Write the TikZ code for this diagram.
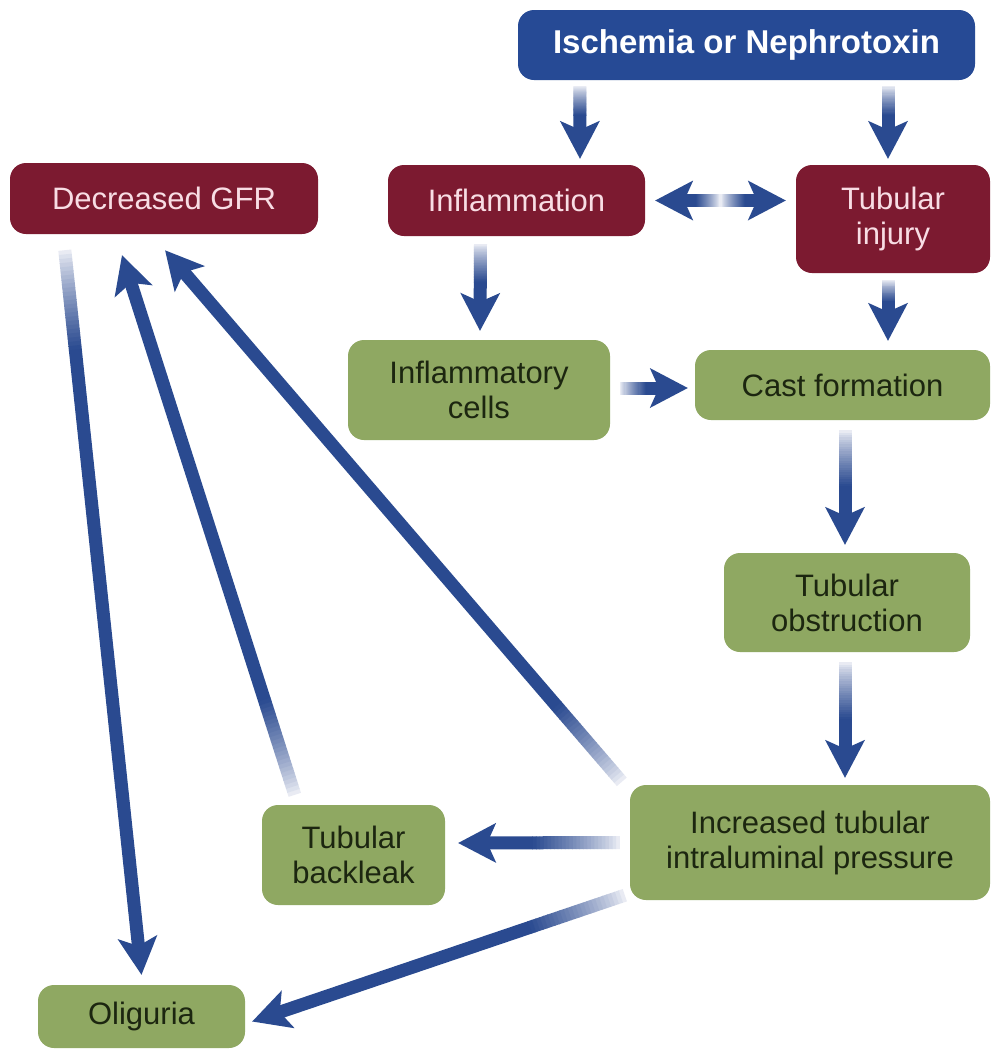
\documentclass[tikz,border=0pt]{standalone}
\usepackage{fontspec}
\setmainfont{Liberation Sans}
\usetikzlibrary{calc}
\definecolor{ablue}{HTML}{2A4A90}
\definecolor{nblue}{HTML}{264A95}
\definecolor{nred}{HTML}{7C1A30}
\definecolor{ngreen}{HTML}{8FA862}
\definecolor{gtext}{HTML}{1C2610}
\definecolor{rtext}{HTML}{F8DDE4}
\definecolor{fadec}{HTML}{F2F3F8}
\newcommand\garr[2]{%
  \path (#1) coordinate (gs) (#2) coordinate (ge);
  \pgfpointdiff{\pgfpointanchor{gs}{center}}{\pgfpointanchor{ge}{center}}%
  \pgfgetlastxy{\gdx}{\gdy}%
  \pgfmathsetmacro\gang{atan2(\gdy,\gdx)}%
  \pgfmathsetmacro\glen{veclen(\gdx,\gdy)}%
  \pgfmathsetmacro\gsh{\glen-28}%
  \pgfmathsetmacro\gfd{min(0.65*\gsh,100)}%
  \pgfmathsetmacro\gseg{\gfd/24}%
  \begin{scope}[shift={(gs)}, rotate=\gang]
    \foreach \gi in {0,...,23}{%
      \pgfmathsetmacro\gpc{100*((\gi+0.5)/24)^0.8}%
      \fill[ablue!\gpc!fadec] (\gi*\gseg pt,-6.5pt) rectangle (\gi*\gseg pt+\gseg pt+0.6pt,6.5pt);
    }
    \fill[ablue] (\gfd pt,-6.5pt) rectangle (\gsh pt,6.5pt);
    \fill[ablue] (\glen pt,0pt) -- (\glen pt-38pt,20pt) -- (\glen pt-29pt,0pt) -- (\glen pt-38pt,-20pt) -- cycle;
  \end{scope}}
\begin{document}
\begin{tikzpicture}[x=1pt,y=-1pt,
  box/.style={rounded corners=16pt, inner sep=0pt, align=center,
    font=\fontsize{31}{35}\selectfont},
  bluebox/.style={box, fill=nblue, text=white, font=\fontsize{33}{37}\selectfont\bfseries},
  redbox/.style={box, fill=nred, text=rtext},
  greenbox/.style={box, fill=ngreen, text=gtext}]
\useasboundingbox[fill=white] (0,0) rectangle (993,1053);
\node[bluebox, minimum width=457pt, minimum height=70pt] (isch) at (746.5,45) {Ischemia or Nephrotoxin};
\node[redbox, minimum width=308pt, minimum height=71pt] (gfr) at (164,198.5) {Decreased GFR};
\node[redbox, minimum width=257pt, minimum height=71pt] (inflam) at (516.5,200.5) {Inflammation};
\node[redbox, minimum width=194pt, minimum height=108pt] (tinj) at (893,219) {Tubular\\injury};
\node[greenbox, minimum width=262pt, minimum height=100pt] (icells) at (479,390) {Inflammatory\\cells};
\node[greenbox, minimum width=295pt, minimum height=70pt] (cast) at (842.5,385) {Cast formation};
\node[greenbox, minimum width=246pt, minimum height=99pt] (tobs) at (847,602.5) {Tubular\\obstruction};
\node[greenbox, minimum width=360pt, minimum height=115pt] (incr) at (810,842.5) {Increased tubular\\intraluminal pressure};
\node[greenbox, minimum width=183pt, minimum height=100pt] (back) at (353.5,855) {Tubular\\backleak};
\node[greenbox, minimum width=207pt, minimum height=63pt] (olig) at (141.5,1016.5) {Oliguria};
% arrows
\garr{$(isch.south west)+(62,6)$}{$(inflam.north)+(63.5,-6)$}
\garr{$(isch.south)+(141.5,6)$}{$(tinj.north)+(-5,-6)$}
\coordinate (dmid) at ($(inflam.east)!0.5!(tinj.west|-inflam.east)$);
\garr{dmid}{$(inflam.east)+(10,0)$}
\garr{dmid}{$(tinj.west|-inflam.east)+(-10,0)$}
\garr{$(inflam.south)+(-36,8)$}{$(icells.north)+(1,-9)$}
\garr{$(tinj.south)+(-5,7)$}{$(cast.north)+(45.5,-9)$}
\garr{$(icells.east)+(10,-2)$}{$(cast.west)+(-7,3)$}
\garr{$(cast.south)+(2.5,10)$}{$(tobs.north)+(-2,-8)$}
\garr{$(tobs.south)+(-2,10)$}{$(incr.north)+(35,-7)$}
\garr{$(incr.west)+(-10,0)$}{$(back.east)+(13,-12)$}
\garr{$(incr.south west)+(-5,-5)$}{$(olig.east)+(7,5)$}
\garr{$(incr.north west)+(-8,-3)$}{$(gfr.south)+(1,16)$}
\garr{$(back.north west)+(33,-10)$}{$(gfr.south)+(-42,21)$}
\garr{$(gfr.south west)+(55,16)$}{$(olig.north)+(0,-10)$}
\end{tikzpicture}
\end{document}
